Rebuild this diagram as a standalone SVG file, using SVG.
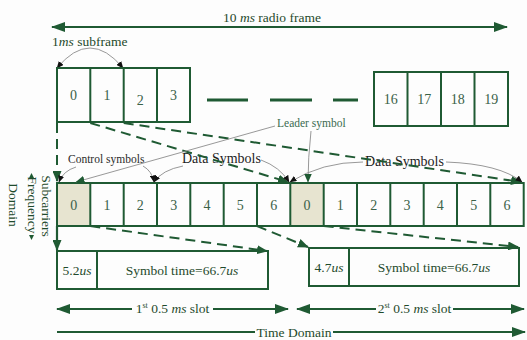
<svg xmlns="http://www.w3.org/2000/svg" width="527" height="340" viewBox="0 0 527 340">
  <style>
    .box { fill: none; stroke: #1f5a33; stroke-width: 2; }
    .sep { stroke: #1f5a33; stroke-width: 2; }
    .lead { fill: #e7e4d0; }
    .num { font-family: "Liberation Serif", serif; font-size: 14px; fill: #3a6148; text-anchor: middle; }
    .lbl { font-family: "Liberation Serif", serif; font-size: 13.5px; fill: #1f4a2c; }
    .cap { font-family: "Liberation Serif", serif; font-size: 11.5px; fill: #2b2b2b; }
    .capg { font-family: "Liberation Serif", serif; font-size: 11.5px; fill: #3a6b50; }
    .data { font-family: "Liberation Serif", serif; font-size: 14px; fill: #1e1e1e; }
    .span { stroke: #1f5a33; stroke-width: 2.2; fill: none; }
    .dash { stroke: #1f5a33; stroke-width: 2; fill: none; stroke-dasharray: 10 6; }
    .call { stroke: #8c8c8c; stroke-width: 0.9; fill: none; }
    .gap { stroke: #1f5a33; stroke-width: 3; }
  </style>
  <defs>
    <marker id="bh" markerUnits="userSpaceOnUse" markerWidth="14" markerHeight="10" viewBox="0 0 14 10" refX="13" refY="5" orient="auto-start-reverse">
      <path d="M0,0 L14,5 L0,10 z" fill="#1f5a33"/>
    </marker>
    <marker id="dh" markerUnits="userSpaceOnUse" markerWidth="11" markerHeight="9" viewBox="0 0 11 9" refX="10" refY="4.5" orient="auto">
      <path d="M0,0 L11,4.5 L0,9 z" fill="#1f5a33"/>
    </marker>
    <marker id="ch" markerUnits="userSpaceOnUse" markerWidth="7" markerHeight="6" viewBox="0 0 7 6" refX="6.5" refY="3" orient="auto-start-reverse">
      <path d="M0,0 L7,3 L0,6 z" fill="#111"/>
    </marker>
    <marker id="gh" markerUnits="userSpaceOnUse" markerWidth="9" markerHeight="8" viewBox="0 0 9 8" refX="8.5" refY="4" orient="auto">
      <path d="M0,0 L9,4 L0,8 z" fill="#1f5a33"/>
    </marker>
  </defs>

  <rect width="527" height="340" fill="#fdfdfd"/>

  <!-- radio frame span -->
  <g id="radio-frame">
    <line class="span" x1="52" y1="27" x2="507" y2="27" marker-start="url(#bh)" marker-end="url(#bh)"/>
    <text class="lbl" x="272" y="22" text-anchor="middle">10 <tspan font-style="italic">ms</tspan> radio frame</text>
  </g>

  <!-- subframe span -->
  <g id="subframe-label">
    <text class="lbl" x="52" y="46">1<tspan font-style="italic">ms</tspan> subframe</text>
    <path class="call" d="M57,68 Q90,28 123,68" marker-start="url(#ch)" marker-end="url(#ch)"/>
  </g>

  <!-- subframes 0..3 -->
  <g id="subframes-left">
    <rect class="box" x="57" y="68" width="133" height="54"/>
    <line class="sep" x1="90.3" y1="68" x2="90.3" y2="122"/>
    <line class="sep" x1="123.7" y1="68" x2="123.7" y2="122"/>
    <line class="sep" x1="157" y1="68" x2="157" y2="122"/>
    <text class="num" x="73.5" y="100">0</text>
    <text class="num" x="107" y="100">1</text>
    <text class="num" x="140.3" y="105">2</text>
    <text class="num" x="173.5" y="100">3</text>
  </g>

  <g id="ellipsis">
    <line class="gap" x1="207" y1="100" x2="248" y2="100"/>
    <line class="gap" x1="270" y1="100" x2="312" y2="100"/>
    <line class="gap" x1="333" y1="100" x2="358" y2="100"/>
  </g>

  <!-- subframes 16..19 -->
  <g id="subframes-right">
    <rect class="box" x="374" y="72" width="134" height="54"/>
    <line class="sep" x1="407.5" y1="72" x2="407.5" y2="126"/>
    <line class="sep" x1="441" y1="72" x2="441" y2="126"/>
    <line class="sep" x1="474.5" y1="72" x2="474.5" y2="126"/>
    <text class="num" x="390.7" y="104">16</text>
    <text class="num" x="424.2" y="104">17</text>
    <text class="num" x="457.7" y="104">18</text>
    <text class="num" x="491.2" y="104">19</text>
  </g>

  <!-- OFDM symbols of one subframe -->
  <g id="symbols">
    <rect class="lead" x="57" y="183" width="33.3" height="43"/>
    <rect class="lead" x="290.3" y="183" width="33.4" height="43"/>
    <rect class="box" x="57" y="183" width="466.7" height="43"/>
    <line class="sep" x1="90.3" y1="183" x2="90.3" y2="226"/>
    <line class="sep" x1="123.7" y1="183" x2="123.7" y2="226"/>
    <line class="sep" x1="157" y1="183" x2="157" y2="226"/>
    <line class="sep" x1="190.3" y1="183" x2="190.3" y2="226"/>
    <line class="sep" x1="223.7" y1="183" x2="223.7" y2="226"/>
    <line class="sep" x1="257" y1="183" x2="257" y2="226"/>
    <line class="sep" x1="290.3" y1="183" x2="290.3" y2="226"/>
    <line class="sep" x1="323.7" y1="183" x2="323.7" y2="226"/>
    <line class="sep" x1="357" y1="183" x2="357" y2="226"/>
    <line class="sep" x1="390.3" y1="183" x2="390.3" y2="226"/>
    <line class="sep" x1="423.7" y1="183" x2="423.7" y2="226"/>
    <line class="sep" x1="457" y1="183" x2="457" y2="226"/>
    <line class="sep" x1="490.3" y1="183" x2="490.3" y2="226"/>
    <text class="num" x="73.7" y="210">0</text>
    <text class="num" x="107" y="210">1</text>
    <text class="num" x="140.3" y="210">2</text>
    <text class="num" x="173.7" y="210">3</text>
    <text class="num" x="207" y="210">4</text>
    <text class="num" x="240.3" y="210">5</text>
    <text class="num" x="273.7" y="210">6</text>
    <text class="num" x="307" y="210">0</text>
    <text class="num" x="340.3" y="210">1</text>
    <text class="num" x="373.7" y="210">2</text>
    <text class="num" x="407" y="210">3</text>
    <text class="num" x="440.3" y="210">4</text>
    <text class="num" x="473.7" y="210">5</text>
    <text class="num" x="507" y="210">6</text>
  </g>

  <!-- axis label -->
  <g id="frequency-axis">
    <text class="lbl" transform="translate(42,206) rotate(90)" text-anchor="middle">Subcarriers</text>
    <text class="lbl" transform="translate(28,205) rotate(90)" text-anchor="middle">Frequency</text>
    <text class="lbl" transform="translate(9,205) rotate(90)" text-anchor="middle">Domain</text>
    <polygon points="31.5,173 29,178 34,178" fill="#1f5a33"/>
    <polygon points="31.5,240 29,235 34,235" fill="#1f5a33"/>
  </g>

  <!-- first slot: CP + symbol -->
  <g id="slot1-symbol">
    <rect class="box" x="57" y="251" width="211" height="38"/>
    <line class="sep" x1="97" y1="251" x2="97" y2="289"/>
    <text class="lbl" x="77" y="275" text-anchor="middle" font-size="13">5.2<tspan font-style="italic">us</tspan></text>
    <text class="lbl" x="182" y="275" text-anchor="middle" font-size="13">Symbol time=66.7<tspan font-style="italic">us</tspan></text>
  </g>

  <!-- second slot: CP + symbol -->
  <g id="slot2-symbol">
    <rect class="box" x="309" y="248" width="210" height="38"/>
    <line class="sep" x1="349" y1="248" x2="349" y2="286"/>
    <text class="lbl" x="329" y="272" text-anchor="middle" font-size="13">4.7<tspan font-style="italic">us</tspan></text>
    <text class="lbl" x="434" y="272" text-anchor="middle" font-size="13">Symbol time=66.7<tspan font-style="italic">us</tspan></text>
  </g>

  <!-- slot spans and time axis -->
  <g id="slot-spans">
    <line class="span" x1="57" y1="309" x2="132" y2="309" marker-start="url(#bh)"/>
    <line class="span" x1="213" y1="309" x2="288" y2="309" marker-end="url(#bh)"/>
    <text class="lbl" x="172.5" y="313" text-anchor="middle" font-size="13">1<tspan font-size="8" dy="-5">st</tspan><tspan dy="5"> 0.5 </tspan><tspan font-style="italic">ms</tspan> slot</text>
    <line class="span" x1="297" y1="309" x2="376" y2="309" marker-start="url(#bh)"/>
    <line class="span" x1="453" y1="309" x2="524" y2="309" marker-end="url(#bh)"/>
    <text class="lbl" x="414.5" y="313" text-anchor="middle" font-size="13">2<tspan font-size="8" dy="-5">st</tspan><tspan dy="5"> 0.5 </tspan><tspan font-style="italic">ms</tspan> slot</text>
  </g>
  <g id="time-axis">
    <line class="span" x1="57" y1="332" x2="255" y2="332"/>
    <line class="span" x1="333" y1="332" x2="525" y2="332" marker-end="url(#bh)"/>
    <text class="lbl" x="294" y="337" text-anchor="middle" font-size="13">Time Domain</text>
  </g>

  <!-- callout labels -->
  <g id="callouts">
    <text class="cap" x="68" y="163">Control symbols</text>
    <text class="data" x="182" y="163">Data Symbols</text>
    <text class="data" x="365" y="166">Data Symbols</text>
    <text class="capg" x="277" y="127">Leader symbol</text>
  </g>

  <!-- connectors -->
  <g id="connectors">
    <path class="dash" d="M57,123 L57,181" marker-end="url(#dh)"/>
    <path class="dash" d="M90.3,123 L288,182" marker-end="url(#dh)"/>
    <path class="dash" d="M123.7,123 L521,182" marker-end="url(#dh)"/>
    <path class="span" d="M57,226 L57,250" marker-end="url(#dh)" stroke-width="2"/>
    <path class="dash" d="M90.3,226 L267,251" marker-end="url(#dh)"/>
    <path class="dash" d="M257,226 L308,247" marker-end="url(#dh)"/>
    <path class="dash" d="M323.7,226 L518,247" marker-end="url(#dh)"/>

    <path class="call" d="M76,167 Q63,171 59,182" marker-end="url(#ch)"/>
    <path class="call" d="M143,166 Q152,171 154,182" marker-end="url(#ch)"/>
    <path class="call" d="M183,166 Q162,170 154,182" marker-end="url(#ch)"/>
    <path class="call" d="M261,160 Q280,167 289,182" marker-end="url(#ch)"/>
    <path class="call" d="M363,162 Q322,162 290,182" marker-end="url(#ch)"/>
    <path class="call" d="M446,162 Q500,164 522,182" marker-end="url(#ch)"/>
    <path class="call" d="M275,126 L76,182" marker-end="url(#gh)"/>
    <path class="call" d="M311,131 Q308,158 308,182" marker-end="url(#gh)"/>
  </g>
</svg>
